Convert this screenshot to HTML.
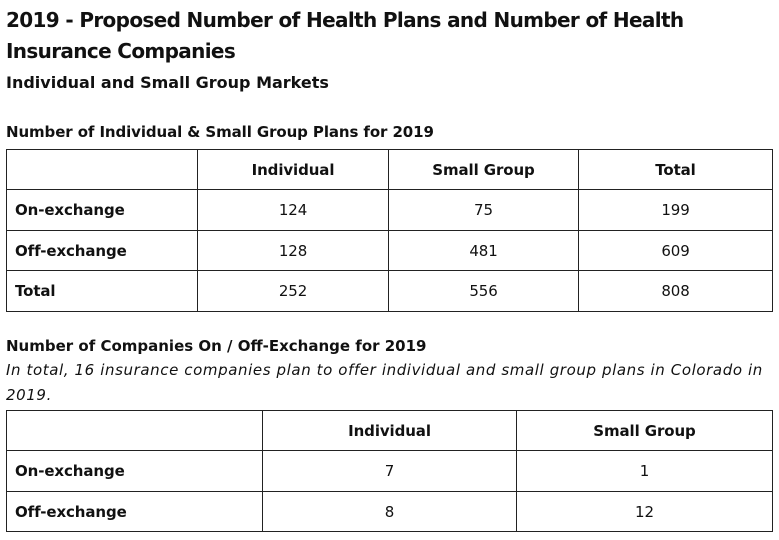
<!DOCTYPE html>
<html><head><meta charset="utf-8"><style>
body{margin:0;width:779px;height:540px;background:#fff;font-family:"DejaVu Sans","Liberation Sans",sans-serif;color:#111;position:relative;overflow:hidden}
.t{position:absolute;white-space:nowrap}
table{position:absolute;border-collapse:collapse;table-layout:fixed}
td{border:1px solid #222;text-align:center;font-size:15px;padding:0;letter-spacing:-0.1px}
td.l{text-align:left;padding-left:8px;font-weight:bold}
tr.h td{font-weight:bold}
</style></head><body>
<div class="t" style="left:6px;top:8px;font-size:20px;font-weight:bold;letter-spacing:-0.65px">2019 - Proposed Number of Health Plans and Number of Health</div>
<div class="t" style="left:6px;top:39px;font-size:20px;font-weight:bold;letter-spacing:-0.65px">Insurance Companies</div>
<div class="t" style="left:6px;top:73px;font-size:16px;font-weight:bold;letter-spacing:0px">Individual and Small Group Markets</div>
<div class="t" style="left:6px;top:123px;font-size:15px;font-weight:bold;letter-spacing:-0.1px">Number of Individual &amp; Small Group Plans for 2019</div>
<table style="left:6px;top:149px;width:766px">
<colgroup><col style="width:191px"><col style="width:191px"><col style="width:190px"><col style="width:194px"></colgroup>
<tr class="h" style="height:40px"><td></td><td>Individual</td><td>Small Group</td><td>Total</td></tr>
<tr style="height:41px"><td class="l">On-exchange</td><td>124</td><td>75</td><td>199</td></tr>
<tr style="height:40px"><td class="l">Off-exchange</td><td>128</td><td>481</td><td>609</td></tr>
<tr style="height:41px"><td class="l">Total</td><td>252</td><td>556</td><td>808</td></tr>
</table>
<div class="t" style="left:6px;top:337px;font-size:15px;font-weight:bold;letter-spacing:0px">Number of Companies On / Off-Exchange for 2019</div>
<div class="t" style="left:6px;top:361px;font-size:15px;font-style:italic;letter-spacing:0.6px">In total, 16 insurance companies plan to offer individual and small group plans in Colorado in</div>
<div class="t" style="left:6px;top:386px;font-size:15px;font-style:italic;letter-spacing:0.6px">2019.</div>
<table style="left:6px;top:410px;width:766px">
<colgroup><col style="width:256px"><col style="width:254px"><col style="width:256px"></colgroup>
<tr class="h" style="height:40px"><td></td><td>Individual</td><td>Small Group</td></tr>
<tr style="height:41px"><td class="l">On-exchange</td><td>7</td><td>1</td></tr>
<tr style="height:40px"><td class="l">Off-exchange</td><td>8</td><td>12</td></tr>
</table>
</body></html>
